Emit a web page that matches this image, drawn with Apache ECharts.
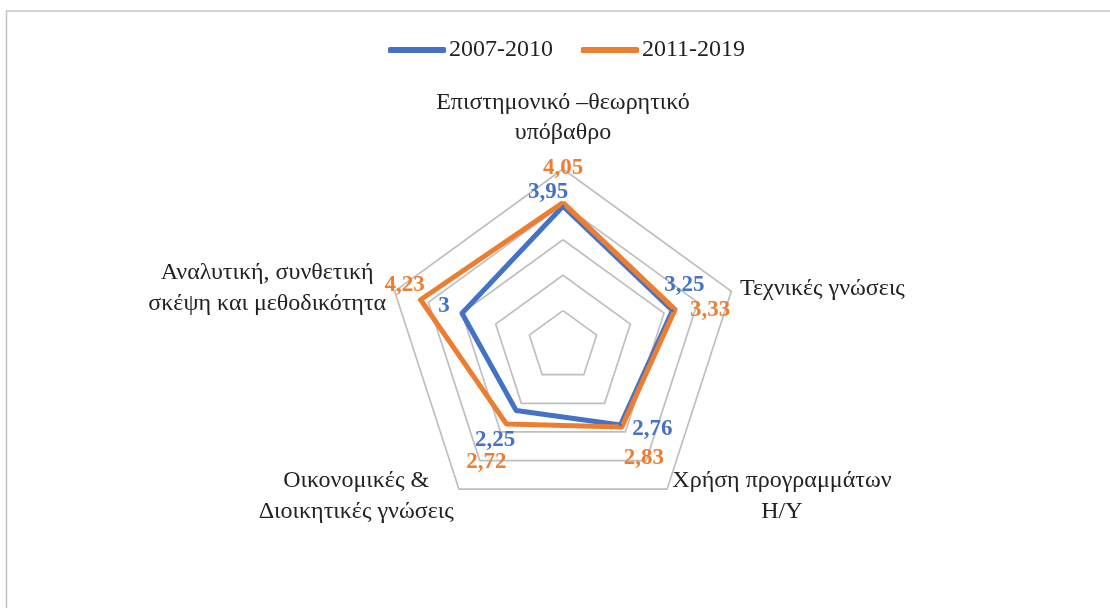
<!DOCTYPE html>
<html>
<head>
<meta charset="utf-8">
<script src="https://cdn.jsdelivr.net/npm/echarts@6/dist/echarts.min.js"></script>
<style>
  html, body { margin: 0; padding: 0; background: #fff; }
  #main { width: 1110px; height: 608px; }
</style>
</head>
<body>
<div id="main"></div>
<script>
// indicators in ECharts order (top, then counter-clockwise)
const indicators = [
  'Επιστημονικό –θεωρητικό\nυπόβαθρο',
  'Αναλυτική, συνθετική\nσκέψη και μεθοδικότητα',
  'Οικονομικές &\nΔιοικητικές γνώσεις',
  'Χρήση προγραμμάτων\nΗ/Υ',
  'Τεχνικές γνώσεις'
];
const seriesNames = ['2007-2010', '2011-2019'];
const values0710 = [3.95, 3, 2.25, 2.76, 3.25];
const values1119 = [4.05, 4.23, 2.72, 2.83, 3.33];

// label offsets from the vertex (px), per series
const offsBlue = [[-15, -14], [-18, -7], [-21, 30], [32, 4], [12, -25]];
const offsOrange = [[0, -35], [-16, -15], [-20, 38], [22, 31], [35, 0]];

const colors = ['#4472C4', '#ED7D31'];
const serif = '"Liberation Serif", "DejaVu Serif", serif';

function richFor(offs, color) {
  const rich = {};
  offs.forEach(function (o, i) {
    const dx = o[0], dy = o[1];
    rich['d' + i] = {
      color: color,
      fontFamily: serif,
      fontWeight: 'bold',
      fontSize: 23,
      padding: [dy > 0 ? 2 * dy : 0, dx < 0 ? -2 * dx : 0, dy < 0 ? -2 * dy : 0, dx > 0 ? 2 * dx : 0]
    };
  });
  return rich;
}

function fmt(vals) {
  return function (p) {
    const i = vals.indexOf(p.value);
    return '{d' + i + '|' + String(p.value).replace('.', ',') + '}';
  };
}

const chart = echarts.init(document.getElementById('main'));
chart.setOption({
  animation: false,
  color: colors,
  graphic: [{
    type: 'rect',
    shape: { x: 6.5, y: 11, width: 1300, height: 800 },
    style: { fill: 'none', stroke: '#C4C4C4', lineWidth: 1.5 },
    silent: true
  }],
  legend: {
    left: 383,
    top: 33,
    itemWidth: 58,
    itemHeight: 6,
    itemGap: 28,
    icon: 'roundRect',
    textStyle: { fontFamily: serif, fontSize: 24, color: '#222', padding: [0, 0, 0, -2] },
    data: seriesNames
  },
  radar: {
    center: [563, 346],
    radius: 177,
    startAngle: 90,
    shape: 'polygon',
    splitNumber: 5,
    nameGap: 9,
    indicator: indicators.map(function (n) { return { name: n, min: 0, max: 5 }; }),
    axisName: {
      color: '#222',
      fontFamily: serif,
      fontSize: 24,
      formatter: function (name) {
        const top = name === indicators[0];
        const lines = name.split('\n').map(function (l) {
          return '{' + (top ? 't' : 'n') + '|' + l + '}';
        });
        if (top) lines.push('{sp| }');
        return lines.join('\n');
      },
      rich: {
        n: { align: 'center', fontFamily: serif, fontSize: 24, color: '#222', lineHeight: 31 },
        t: { align: 'center', fontFamily: serif, fontSize: 24, color: '#222', lineHeight: 30 },
        sp: { fontSize: 1, lineHeight: 12 }
      },
      padding: 0
    },
    splitLine: { lineStyle: { color: '#BFBFBF', width: 1.7 } },
    splitArea: { show: false },
    axisLine: { show: false },
    axisTick: { show: false },
    axisLabel: { show: false }
  },
  series: [{
    type: 'radar',
    symbol: 'circle',
    symbolSize: 3,
    lineStyle: { width: 5, join: 'round' },
    data: [{
      name: seriesNames[0],
      value: values0710,
      itemStyle: { color: colors[0] },
      lineStyle: { color: colors[0], width: 5 },
      label: { show: true, position: 'inside', formatter: fmt(values0710), rich: richFor(offsBlue, colors[0]) }
    }, {
      name: seriesNames[1],
      value: values1119,
      itemStyle: { color: colors[1] },
      lineStyle: { color: colors[1], width: 5 },
      label: { show: true, position: 'inside', formatter: fmt(values1119), rich: richFor(offsOrange, colors[1]) }
    }]
  }]
});
</script>
</body>
</html>
